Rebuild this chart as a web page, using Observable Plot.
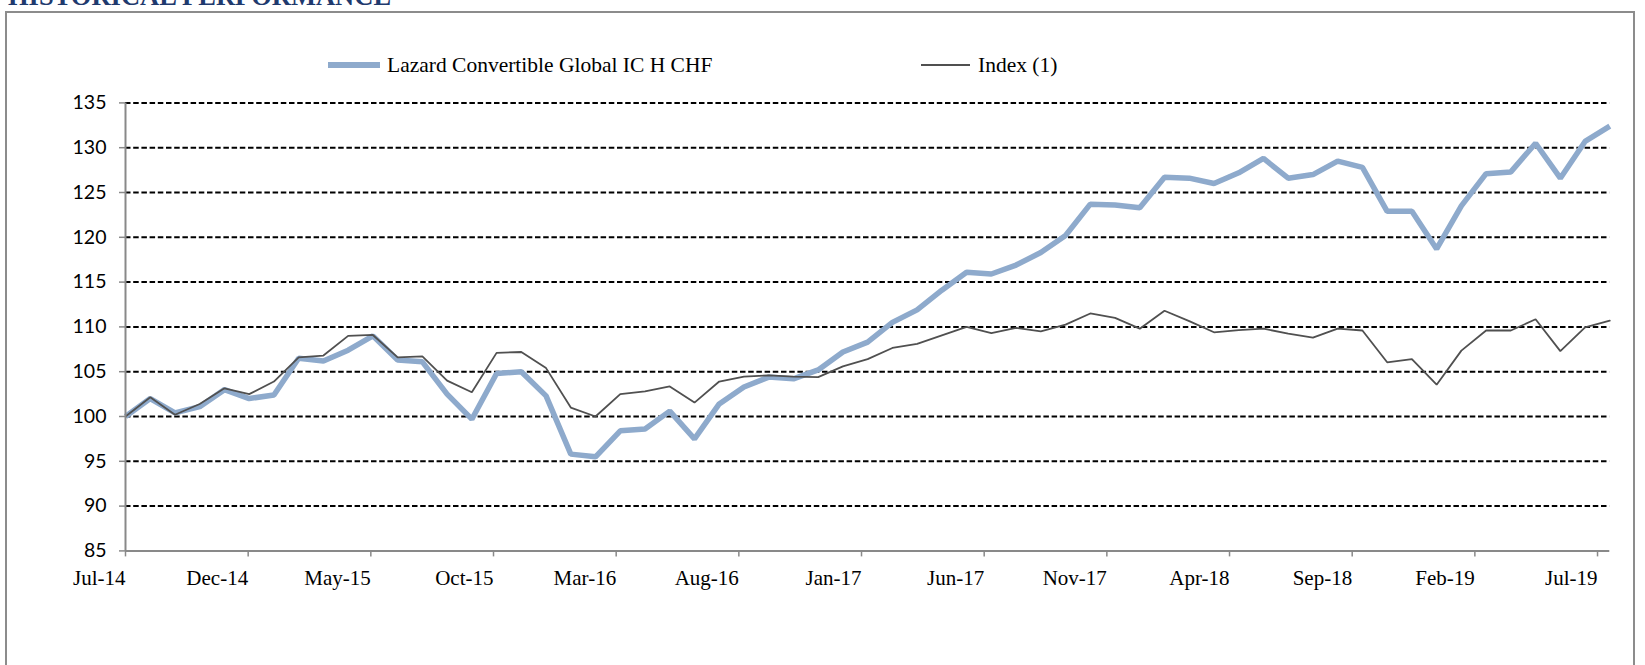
<!DOCTYPE html>
<html>
<head>
<meta charset="utf-8">
<script src="https://cdn.jsdelivr.net/npm/d3@7"></script>
<script src="https://cdn.jsdelivr.net/npm/@observablehq/plot@0.6"></script>
<style>
  html, body { margin: 0; padding: 0; background: #fff; }
  #wrap { position: relative; width: 1645px; height: 665px; overflow: hidden; }
  #frame { position: absolute; left: 5px; top: 11px; width: 1630px; height: 700px; border: 2px solid #8c8c8c; box-sizing: border-box; }
  #title { position: absolute; left: 8px; top: -17px; font: bold 26.5px "Liberation Serif", serif; color: #1f3a6e; line-height: 26.5px; white-space: nowrap; }
  #chart { position: absolute; left: 0; top: 0; }
  .leg { position: absolute; font: 21.5px "Liberation Serif", serif; color: #000; line-height: 24px; white-space: nowrap; }
  .swatch { position: absolute; }
</style>
</head>
<body>
<div id="wrap">
  <div id="frame"></div>
  <div id="title">HISTORICAL PERFORMANCE</div>
  <div id="chart"></div>
  <div id="legend"></div>
</div>
<script>
// Series (monthly, Jul-14 .. Jul-19, rebased to 100)
const seriesNames = ["Lazard Convertible Global IC H CHF", "Index (1)"];
const lazard = [
  100.0, 102.0, 100.4, 101.1, 103.0, 102.0, 102.4, 106.5, 106.2, 107.4,
  109.0, 106.3, 106.1, 102.5, 99.7, 104.8, 105.0, 102.3, 95.8, 95.5,
  98.4, 98.6, 100.6, 97.5, 101.4, 103.3, 104.4, 104.2, 105.2, 107.2,
  108.3, 110.5, 111.9, 114.1, 116.1, 115.9, 116.9, 118.3, 120.2, 123.7,
  123.6, 123.3, 126.7, 126.6, 126.0, 127.2, 128.8, 126.6, 127.0, 128.5,
  127.8, 122.9, 122.9, 118.7, 123.5, 127.1, 127.3, 130.5, 126.6, 130.7,
  132.4
];
const index1 = [
  100.0, 102.15, 100.2, 101.4, 103.15, 102.5, 103.9, 106.6, 106.8, 109.0,
  109.1, 106.6, 106.7, 104.0, 102.7, 107.1, 107.2, 105.4, 101.0, 100.0,
  102.5, 102.8, 103.35, 101.55, 103.9, 104.45, 104.6, 104.45, 104.4, 105.6,
  106.4, 107.65, 108.1, 109.05, 110.0, 109.3, 109.9, 109.5, 110.25, 111.5,
  111.0, 109.8, 111.8, 110.65, 109.4, 109.65, 109.8, 109.25, 108.8, 109.8,
  109.6, 106.05, 106.4, 103.55, 107.35, 109.6, 109.6, 110.85, 107.3, 109.95,
  110.7
];
// Axis tick labels (every 5 months on the date axis)
const tickLabels = ["Jul-14","Dec-14","May-15","Oct-15","Mar-16","Aug-16","Jan-17","Jun-17","Nov-17","Apr-18","Sep-18","Feb-19","Jul-19"];
const tickMonths = [0, 5, 10, 15, 20, 25, 30, 35, 40, 45, 50, 55, 60];
const yTicks = [85, 90, 95, 100, 105, 110, 115, 120, 125, 130, 135];
// the 61 monthly points span 60.5 months of the date axis
const axisSpan = 60.5;
const step = axisSpan / (lazard.length - 1);

const colors = { lazard: "#8eaacc", index: "#505050" };
const rows = lazard.map((v, i) => ({ t: i * step, lazard: v, index: index1[i] }));

const axisGray = "#898989";
const chart = Plot.plot({
  width: 1645,
  height: 665,
  marginLeft: 125,
  marginRight: 35.7,
  marginTop: 102.4,
  marginBottom: 114.6,
  style: { background: "transparent", overflow: "visible" },
  x: { domain: [0, axisSpan], axis: null },
  y: { domain: [85, 135], axis: null },
  marks: [
    Plot.ruleY(yTicks.filter(v => v > 85), { stroke: "#000", strokeWidth: 2, strokeDasharray: "5.5,2.7" }),
    Plot.line(rows, { x: "t", y: "lazard", stroke: colors.lazard, strokeWidth: 5.5, strokeLinejoin: "miter", strokeLinecap: "butt" }),
    Plot.line(rows, { x: "t", y: "index", stroke: colors.index, strokeWidth: 1.8, strokeLinejoin: "miter" }),
    Plot.ruleX([0], { stroke: axisGray, strokeWidth: 2 }),
    Plot.ruleY([85], { stroke: axisGray, strokeWidth: 2 }),
    Plot.axisY({ ticks: yTicks, tickSize: 6, tickPadding: 13, stroke: axisGray, strokeWidth: 1.5, fill: "#000", fontFamily: "Lato, sans-serif", fontSize: 19.5, label: null, tickFormat: d => String(d) }),
    Plot.axisX({ ticks: tickMonths, tickSize: 6, tickPadding: 13, stroke: axisGray, strokeWidth: 1.5, fill: "#000", textAnchor: "end", fontFamily: "Liberation Serif, serif", fontSize: 21, label: null, tickFormat: d => tickLabels[tickMonths.indexOf(d)] })
  ]
});
document.getElementById("chart").appendChild(chart);

// Legend
const legend = document.getElementById("legend");
const legendItems = [
  { name: seriesNames[0], color: colors.lazard, x: 328, w: 52, h: 5.5, tx: 387 },
  { name: seriesNames[1], color: colors.index, x: 921, w: 49, h: 2, tx: 978 }
];
for (const it of legendItems) {
  const sw = document.createElement("div");
  sw.className = "swatch";
  sw.style.left = it.x + "px";
  sw.style.width = it.w + "px";
  sw.style.top = (65 - it.h / 2) + "px";
  sw.style.height = it.h + "px";
  sw.style.background = it.color;
  legend.appendChild(sw);
  const tx = document.createElement("div");
  tx.className = "leg";
  tx.style.left = it.tx + "px";
  tx.style.top = (65 - 12) + "px";
  tx.textContent = it.name;
  legend.appendChild(tx);
}
</script>
</body>
</html>
